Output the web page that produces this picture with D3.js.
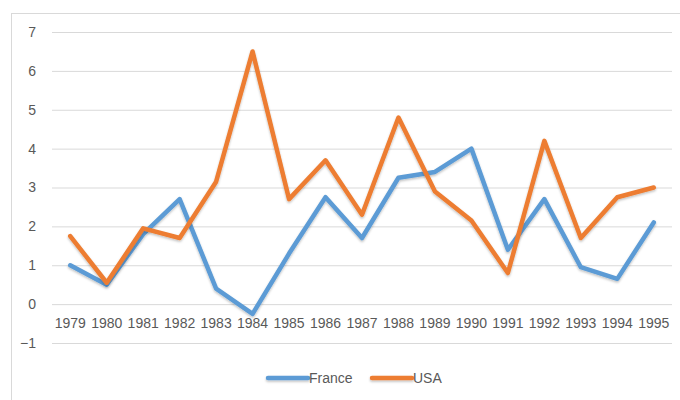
<!DOCTYPE html>
<html>
<head>
<meta charset="utf-8">
<script src="https://cdn.jsdelivr.net/npm/d3@7"></script>
<style>
  body { margin: 0; background: #fff; }
  svg { display: block; font-family: "Liberation Sans", Arial, sans-serif; }
</style>
</head>
<body>
<script>
const years = ["1979","1980","1981","1982","1983","1984","1985","1986","1987","1988","1989","1990","1991","1992","1993","1994","1995"];
const france = [1.0, 0.5, 1.8, 2.7, 0.4, -0.25, 1.3, 2.75, 1.7, 3.25, 3.4, 4.0, 1.4, 2.7, 0.95, 0.65, 2.1];
const usa = [1.75, 0.55, 1.95, 1.7, 3.15, 6.5, 2.7, 3.7, 2.3, 4.8, 2.9, 2.15, 0.8, 4.2, 1.7, 2.75, 3.0];
const yTicks = [-1, 0, 1, 2, 3, 4, 5, 6, 7];
const seriesNames = ["France", "USA"];
const colors = ["#5b9bd5", "#ed7d31"];

const width = 680;
const height = 400;

let svg = d3.select('body')
    .append('svg')
    .attr('width', width)
    .attr('height', height);

// soft shadow like the office chart
let defs = svg.append('defs');
defs.append('filter')
    .attr('id', 'shadow')
    .attr('filterUnits', 'userSpaceOnUse')
    .attr('x', 0).attr('y', 0)
    .attr('width', width).attr('height', height)
  .append('feDropShadow')
    .attr('dx', 0).attr('dy', 1.5)
    .attr('stdDeviation', 1.2)
    .attr('flood-color', '#000')
    .attr('flood-opacity', 0.25);

// chart area border
svg.append('rect')
    .attr('x', 11.5).attr('y', 13.5)
    .attr('width', 700).attr('height', 420)
    .attr('fill', 'none')
    .attr('stroke', '#d9d9d9')
    .attr('stroke-width', 1);

let x = d3.scaleBand()
    .domain(years)
    .range([52, 672])
    .padding(0);

let y = d3.scaleLinear()
    .domain([-1, 7])
    .range([343, 32]);

// gridlines
svg.append('g')
    .attr('transform', 'translate(52,0)')
    .call(d3.axisLeft(y).tickValues(yTicks).tickSize(-620).tickFormat(''))
    .call(g => g.select('.domain').remove())
    .call(g => g.selectAll('line').attr('stroke', '#d9d9d9').attr('stroke-width', 1));

// y labels
svg.append('g')
    .attr('transform', 'translate(36,0)')
    .call(d3.axisLeft(y).tickValues(yTicks).tickSize(0).tickPadding(0).tickFormat(d3.format('d')))
    .call(g => g.select('.domain').remove())
    .call(g => g.selectAll('text')
        .attr('fill', '#595959')
        .attr('font-size', '14px')
        .attr('font-family', '"Liberation Sans", Arial, sans-serif'));

// x labels
svg.append('g')
    .attr('transform', `translate(0,${y(0)})`)
    .call(d3.axisBottom(x).tickSize(0).tickPadding(14))
    .call(g => g.select('.domain').remove())
    .call(g => g.selectAll('text')
        .attr('fill', '#595959')
        .attr('font-size', '14px')
        .attr('font-family', '"Liberation Sans", Arial, sans-serif'));

let line = d3.line()
    .x((d, i) => x(years[i]) + x.bandwidth() / 2)
    .y(d => y(d));

[france, usa].forEach(function(serie, i) {
    svg.append('path')
        .datum(serie)
        .attr('d', line)
        .attr('fill', 'none')
        .attr('stroke', colors[i])
        .attr('stroke-width', 4.5)
        .attr('stroke-linejoin', 'round')
        .attr('stroke-linecap', 'round')
        .attr('filter', 'url(#shadow)');
});

// legend
let legendX = [268, 372];
let legend = svg.append('g');
seriesNames.forEach(function(name, i) {
    legend.append('line')
        .attr('x1', legendX[i]).attr('x2', legendX[i] + 40)
        .attr('y1', 378).attr('y2', 378)
        .attr('stroke', colors[i])
        .attr('stroke-width', 4.5)
        .attr('stroke-linecap', 'round')
        .attr('filter', 'url(#shadow)');
    legend.append('text')
        .attr('x', legendX[i] + 41)
        .attr('y', 378)
        .attr('dy', '0.35em')
        .attr('fill', '#595959')
        .attr('font-size', '14px')
        .text(name);
});
</script>
</body>
</html>
